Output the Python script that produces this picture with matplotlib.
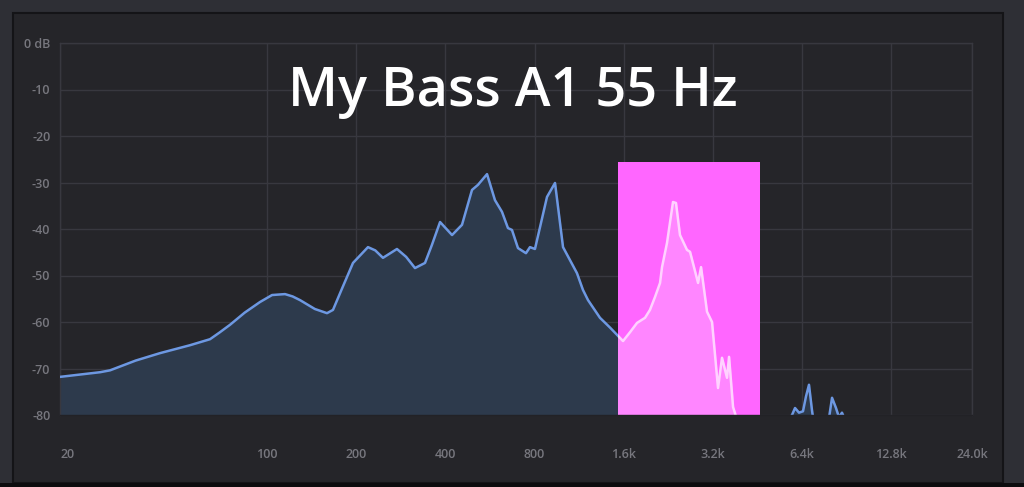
import numpy as np
import matplotlib
matplotlib.use("Agg")
import matplotlib.pyplot as plt
from matplotlib.patches import Rectangle
from matplotlib.ticker import FixedLocator, FixedFormatter, NullLocator

# spectrum (Hz, dB)
freq_hz = [20, 27.3, 29.5, 36, 43.5, 54.9, 64.2, 69, 75.0, 84, 94.7, 104, 115, 122,
           129.3, 145, 159.4, 167.0, 180, 195.1, 219.2, 232, 246.3, 274.6, 295,
           315.9, 341.5, 360, 383.9, 421.4, 455.3, 492.1, 515.6, 553.1, 588.3,
           621.2, 650.8, 671.4, 703.5, 748.6, 772.3, 802.9, 881.7, 938.3, 998.6,
           1113, 1166, 1213, 1331, 1439, 1592, 1681, 1775, 1889, 1963, 2042, 2123,
           2156, 2241, 2348, 2403, 2479, 2618, 2680, 2853, 2920, 3059, 3180, 3332,
           3437, 3573, 3630, 3745, 3802, 3953, 4617, 5609, 5923, 6063, 6253, 6451,
           6603, 6758, 6918, 7026, 7838, 8085, 8337, 8534, 8734, 8940, 24000]
level_db = [-71.8, -70.8, -70.4, -68.3, -66.7, -65.0, -63.7, -62.3, -60.6, -58.0,
            -55.7, -54.2, -54.0, -54.5, -55.3, -57.2, -58.1, -57.4, -52.5, -47.3,
            -43.9, -44.6, -46.2, -44.3, -46.0, -48.4, -47.3, -43.5, -38.5, -41.3,
            -39.1, -31.6, -30.5, -28.2, -33.8, -36.3, -39.8, -40.2, -44.1, -45.2,
            -43.9, -44.3, -33.1, -30.1, -43.9, -49.5, -53.1, -55.3, -59.1, -61.2,
            -64.1, -62.2, -60.2, -59.1, -57.4, -54.6, -51.6, -48.2, -43.0, -34.2,
            -34.4, -41.3, -44.5, -44.9, -51.6, -48.2, -57.8, -60.0, -74.2, -67.7,
            -72.0, -67.5, -78.3, -79.6, -84, -88, -82, -80, -78.5, -79.5, -79.2,
            -76.0, -73.5, -79.0, -82, -82, -76.3, -78.5, -80.5, -79.5, -81, -90]

band_lo, band_hi, band_top = 1531, 4617, -25.6
title = "My Bass A1 55 Hz"
x_ticks = [20, 100, 200, 400, 800, 1600, 3200, 6400, 12800, 24000]
x_labels = ["20", "100", "200", "400", "800", "1.6k", "3.2k", "6.4k", "12.8k", "24.0k"]
y_ticks = [0, -10, -20, -30, -40, -50, -60, -70, -80]
y_labels = ["0 dB", "-10", "-20", "-30", "-40", "-50", "-60", "-70", "-80"]

outer = "#2e2f35"
panel = "#252529"
grid = "#38383f"
label_col = "#77777e"

fig = plt.figure(figsize=(10.24, 4.87), dpi=100)
fig.patch.set_facecolor(outer)
fig.patches.append(Rectangle((13 / 1024, 4 / 487), 990 / 1024, 470 / 487,
                             transform=fig.transFigure, facecolor=panel,
                             edgecolor="#141417", linewidth=1.5, zorder=-2))
fig.patches.append(Rectangle((0, 0), 1, 4 / 487, transform=fig.transFigure,
                             facecolor="#0c0c0e", edgecolor="none", zorder=-1))

ax = fig.add_axes([60 / 1024, 1 - 415 / 487, 912 / 1024, 372 / 487])
ax.set_facecolor(panel)
ax.set_xscale("log")
ax.set_xlim(20, 24000)
ax.set_ylim(-80, 0)

ax.xaxis.set_major_locator(FixedLocator(x_ticks))
ax.xaxis.set_major_formatter(FixedFormatter(x_labels))
ax.xaxis.set_minor_locator(NullLocator())
ax.set_yticks(y_ticks)
ax.set_yticklabels(y_labels)
ax.tick_params(axis="both", length=0, colors=label_col, labelsize=9)
ax.tick_params(axis="x", pad=24)
ax.tick_params(axis="y", pad=7)
for lab in ax.get_xticklabels() + ax.get_yticklabels():
    lab.set_family("Open Sans")
    lab.set_weight("semibold")
ax.get_xticklabels()[0].set_horizontalalignment("left")
ax.grid(True, color=grid, linewidth=1.0)
ax.set_axisbelow(True)
for s in ax.spines.values():
    s.set_color(grid)
    s.set_linewidth(1.0)
ax.spines["bottom"].set_color("#222226")
ax.spines["bottom"].set_zorder(7)

ax.fill_between(freq_hz, level_db, -95, color="#2d3a4c", zorder=2)
ax.plot(freq_hz, level_db, color="#6d98e2", linewidth=1.8, zorder=3)

# highlighted band; bottom pushed past the axis (clipped) so no seam shows
band = Rectangle((band_lo, -82), band_hi - band_lo, band_top - (-82),
                 facecolor="#ff66ff", edgecolor="none", zorder=4)
ax.add_patch(band)
inside = Rectangle((band_lo, -80), band_hi - band_lo, band_top - (-80),
                   transform=ax.transData, visible=False)
f2 = ax.fill_between(freq_hz, level_db, -95, color="#ff86ff", zorder=5)
f2.set_clip_path(inside)
l2, = ax.plot(freq_hz, level_db, color="#ffd2ff", linewidth=1.8, zorder=6)
l2.set_clip_path(inside)

fig.text(513 / 1024, 1 - 92 / 487, title, color="white", fontsize=39,
         family="Open Sans", weight="semibold", ha="center", va="center")

fig.savefig("out.png", dpi=100, facecolor=fig.get_facecolor())
